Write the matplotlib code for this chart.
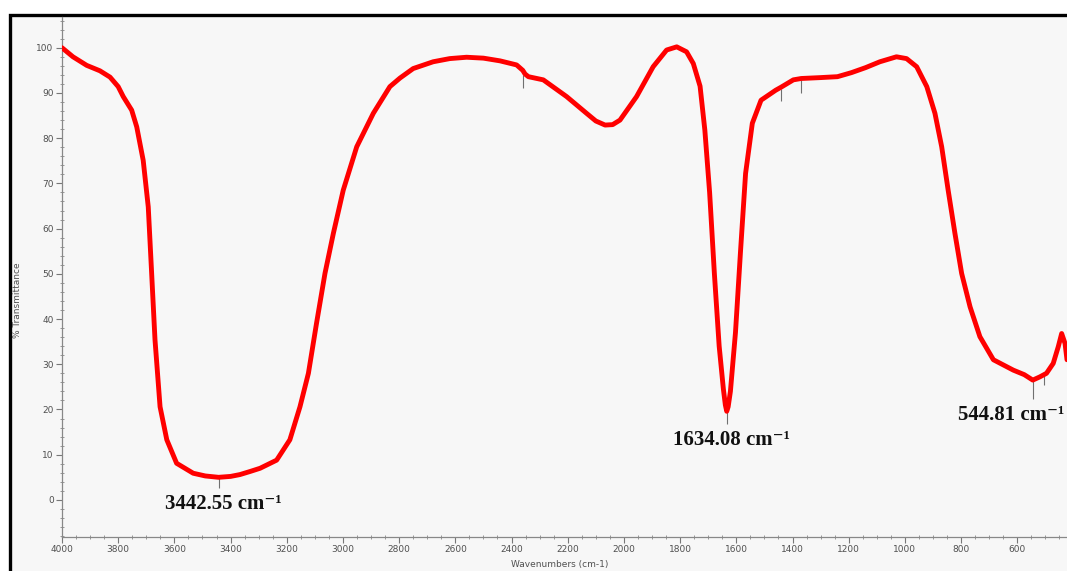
import matplotlib
matplotlib.use("Agg")
import matplotlib.pyplot as plt
from matplotlib.patches import Rectangle
from matplotlib.ticker import MultipleLocator


# FTIR spectrum, read point by point (cm-1, %T)
WAVENUMBER = [
    4000, 3961, 3912, 3865, 3829, 3800, 3782, 3752, 3734, 3711, 3693, 3681,
    3669, 3651, 3627, 3592, 3533, 3490, 3442.55, 3400, 3367, 3330, 3295, 3236,
    3189, 3153, 3123, 3094, 3064, 3034, 2999, 2951, 2892, 2833, 2797, 2750,
    2679, 2620, 2560, 2500, 2441, 2382, 2360, 2352, 2340, 2287, 2204, 2133,
    2100, 2067, 2040, 2014, 1955, 1896, 1848, 1812, 1777, 1753, 1729, 1712,
    1695, 1678, 1661, 1646, 1639, 1634.08, 1629, 1621, 1603, 1585, 1567, 1543,
    1512, 1460, 1440, 1397, 1369, 1300, 1240, 1190, 1140, 1089, 1030, 994,
    958, 922, 893, 869, 846, 822, 798, 768, 733, 685, 614, 575, 544.81, 520,
    496, 472, 454, 442, 430, 423,
]
TRANSMITTANCE = [
    100.0, 98.0, 96.1, 94.9, 93.5, 91.4, 89.2, 86.2, 82.5, 75.1, 64.8, 50.2,
    35.4, 20.6, 13.3, 8.1, 5.9, 5.3, 5.0, 5.2, 5.6, 6.3, 7.0, 8.8,
    13.3, 20.6, 28.0, 39.1, 50.1, 59.0, 68.5, 78.1, 85.5, 91.4, 93.3, 95.4,
    96.9, 97.6, 97.9, 97.7, 97.1, 96.2, 95.0, 94.2, 93.6, 92.9, 89.2, 85.5,
    83.8, 82.9, 83.0, 84.0, 89.2, 95.8, 99.5, 100.2, 99.1, 96.5, 91.5, 81.8,
    68.0, 50.0, 34.0, 24.5, 21.0, 19.6, 20.6, 24.0, 37.0, 55.0, 72.2, 83.3,
    88.4, 90.6, 91.3, 92.9, 93.2, 93.4, 93.6, 94.5, 95.6, 96.9, 98.0, 97.6,
    95.8, 91.4, 85.5, 78.1, 68.5, 59.0, 50.1, 42.7, 36.1, 31.0, 28.7, 27.7,
    26.5, 27.2, 28.0, 30.2, 33.9, 36.8, 34.6, 31.0,
]

# peak-pick strokes below the marked minima (position, top, bottom)
PEAK_POS = [3442.55, 2360, 1440, 1369, 1634.08, 544.81, 505]
PEAK_TOP = [5.0, 94.0, 90.8, 92.8, 19.6, 26.5, 27.6]
PEAK_BOT = [2.6, 91.0, 88.2, 90.0, 16.8, 22.3, 25.5]

LABEL_POS = [3426, 1616, 623]
LABEL_Y = [-1.0, 13.2, 18.8]
LABEL_TEXT = ["3442.55 cm\u207b\u00b9", "1634.08 cm\u207b\u00b9", "544.81 cm\u207b\u00b9"]

X_TICKS = list(range(4000, 599, -200))
Y_TICKS = list(range(0, 101, 10))

fig = plt.figure(figsize=(10.67, 5.71), dpi=100, facecolor="white")

# outer frame: thick black border with light gray panel
frame = Rectangle((10 / 1067, -0.01), 1.02, 1 - 15 / 571 + 0.01,
                  transform=fig.transFigure, facecolor="#f7f7f7",
                  edgecolor="black", linewidth=2.4, zorder=-5)
fig.patches.append(frame)

ax = fig.add_axes([62 / 1067, 1 - 537 / 571, 1 - 62 / 1067, (537 - 17) / 571])
ax.set_zorder(2)
ax.set_facecolor("none")
ax.plot(WAVENUMBER, TRANSMITTANCE, color="#ff0000", linewidth=3.5,
        solid_joinstyle="round", solid_capstyle="round", zorder=3)
ax.vlines(PEAK_POS, PEAK_BOT, PEAK_TOP, color="#707070", linewidth=0.8, zorder=2)

for x, y, text in zip(LABEL_POS, LABEL_Y, LABEL_TEXT):
    ax.text(x, y, text, ha="center", va="center", fontsize=15,
            family=["Liberation Serif", "DejaVu Serif"], fontweight="bold",
            color="#111111")

ax.set_xlim(4000, 423)
ax.set_ylim(-8.2, 106.8)
ax.set_xticks(X_TICKS)
ax.set_yticks(Y_TICKS)
ax.xaxis.set_minor_locator(MultipleLocator(50))
ax.yaxis.set_minor_locator(MultipleLocator(2))

for side in ("top", "right"):
    ax.spines[side].set_visible(False)
for side in ("left", "bottom"):
    ax.spines[side].set_color("#888888")
    ax.spines[side].set_linewidth(0.9)

ax.tick_params(which="major", direction="out", length=4, width=0.8,
               color="#777777", labelsize=6.5, labelcolor="#505050", pad=2)
ax.tick_params(which="minor", direction="inout", length=3, width=0.6,
               color="#888888")

fig.text(18 / 1067, 1 - 300 / 571, "% Transmittance", rotation=90,
         ha="center", va="center", fontsize=6.5, color="#505050")
fig.text(560 / 1067, 1 - 564 / 571, "Wavenumbers (cm-1)",
         ha="center", va="center", fontsize=6.5, color="#505050")

fig.savefig("out.png", dpi=100, facecolor="white")
